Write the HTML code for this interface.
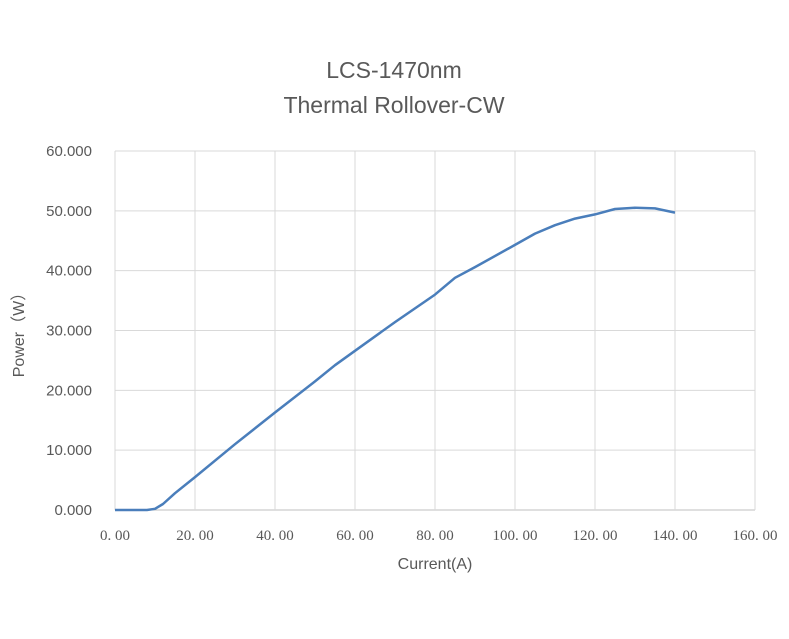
<!DOCTYPE html>
<html><head><meta charset="utf-8"><style>
body{margin:0;background:#fff;}
svg text{font-family:"Liberation Sans","Noto Sans CJK SC",sans-serif;fill:#595959;}
</style></head><body>
<svg id="chart" width="789" height="634" xmlns="http://www.w3.org/2000/svg">
<rect width="789" height="634" fill="#fff"/>
<text x="394" y="78" font-size="23" text-anchor="middle">LCS-1470nm</text>
<text x="394" y="113" font-size="23" text-anchor="middle">Thermal Rollover-CW</text>
<g id="grid"></g><g id="yticks"></g><g id="xticks"></g>
<path id="line" fill="none" stroke="#4a7ebb" stroke-width="2.5" stroke-linejoin="round"/>
<text x="435" y="569" font-size="16" text-anchor="middle">Current(A)</text>
<text transform="translate(24,331) rotate(-90)" font-size="16" text-anchor="middle">Power（W）</text>
</svg>
<script>
const xTicks=[0,20,40,60,80,100,120,140,160];
const xTickLabels=["0. 00","20. 00","40. 00","60. 00","80. 00","100. 00","120. 00","140. 00","160. 00"];
const yTicks=[0,10,20,30,40,50,60];
const yTickLabels=["0.000","10.000","20.000","30.000","40.000","50.000","60.000"];
const currents=[0,8,10,12,15,20,30,40,50,55,60,70,80,85,90,100,105,110,115,120,125,130,135,140];
const powers=[0,0,0.2,1,2.8,5.5,11,16.3,21.5,24.2,26.6,31.4,36,38.8,40.6,44.3,46.2,47.6,48.7,49.4,50.3,50.5,50.4,49.7];
const X0=115,X1=755,Y0=510,Y1=151;
const sx=v=>X0+(v-0)/160*(X1-X0);
const sy=v=>Y0-(v-0)/60*(Y0-Y1);
const NS="http://www.w3.org/2000/svg";
const grid=document.getElementById('grid'),yt=document.getElementById('yticks'),xt=document.getElementById('xticks');
yTicks.forEach((v,i)=>{
 const l=document.createElementNS(NS,'line');
 
 
 l.setAttribute('x1',X0);l.setAttribute('x2',X1);l.setAttribute('y1',sy(v));l.setAttribute('y2',sy(v));
 l.setAttribute('stroke',v===0?'#bfbfbf':'#d9d9d9');l.setAttribute('stroke-width','1');
 grid.appendChild(l);
 const t=document.createElementNS(NS,'text');
 
 
 t.setAttribute('x',X0-23);t.setAttribute('y',sy(v)+5);t.setAttribute('text-anchor','end');t.setAttribute('font-size','15');
 t.textContent=yTickLabels[i];yt.appendChild(t);
});
xTicks.forEach((v,i)=>{
 const l=document.createElementNS(NS,'line');
 
 
 l.setAttribute('x1',sx(v));l.setAttribute('x2',sx(v));l.setAttribute('y1',Y1);l.setAttribute('y2',Y0);
 l.setAttribute('stroke','#d9d9d9');l.setAttribute('stroke-width','1');
 grid.appendChild(l);
 const t=document.createElementNS(NS,'text');
 
 
 t.setAttribute('x',sx(v));t.setAttribute('y',Y0+30);t.setAttribute('text-anchor','middle');t.setAttribute('font-size','15');
 t.setAttribute('style','font-family:"Liberation Serif","Noto Serif CJK SC",serif');
 t.textContent=xTickLabels[i];xt.appendChild(t);
});
document.getElementById('line').setAttribute('d',currents.map((c,i)=>(i?'L':'M')+sx(c).toFixed(1)+' '+sy(powers[i]).toFixed(1)).join(' '));
</script>
</body></html>
